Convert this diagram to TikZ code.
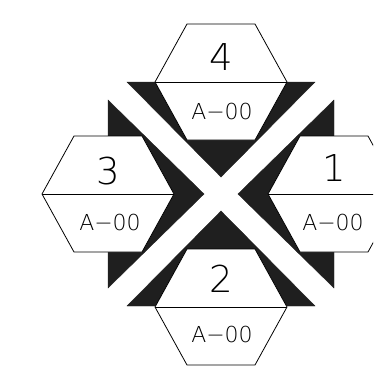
\documentclass[tikz,border=0pt]{standalone}
\usepackage{fontspec}
\newfontfamily\lbl{DejaVu Sans ExtraLight}
\tikzset{
  hexline/.style={draw=black, line width=0.8pt, fill=white},
  midline/.style={draw=black, line width=0.8pt},
  tri/.style={fill=black!88, draw=black!88, line width=0.4pt},
  num/.style={font=\lbl\fontsize{37}{40}\selectfont, inner sep=0pt},
  code/.style={font=\lbl\fontsize{22}{24}\selectfont, inner sep=0pt},
  hexpic/.pic={
    \path[hexline] (-34,-58) -- (34,-58) -- (66,0) -- (34,58) -- (-34,58) -- (-66,0) -- cycle;
    \path[midline] (-66,0) -- (66,0);
  }
}
\begin{document}
\begin{tikzpicture}[x=1pt,y=-1pt]
\useasboundingbox (0,0) rectangle (373,375);
\clip (0,0) rectangle (373,375);
% dark triangles
\path[tri] (127,82) -- (315,82) -- (221,177) -- cycle;
\path[tri] (127,306) -- (315,306) -- (221,211) -- cycle;
\path[tri] (108,100) -- (108,288) -- (204,194) -- cycle;
\path[tri] (334,100) -- (334,288) -- (238,194) -- cycle;
% hexagons
\pic at (221,82) {hexpic};
\pic at (108,194) {hexpic};
\pic at (334,194) {hexpic};
\pic at (221,307) {hexpic};
% labels
\node[num] (n4) at (221,57) {4};
\node[code] (c4) at (222,111) {A−00};
\node[num] (n3) at (108,171) {3};
\node[code] (c3) at (110,222) {A−00};
\node[num] (n1) at (334,168) {1};
\node[code] (c1) at (333,222) {A−00};
\node[num] (n2) at (221,279) {2};
\node[code] (c2) at (222,334) {A−00};
\end{tikzpicture}
\end{document}
